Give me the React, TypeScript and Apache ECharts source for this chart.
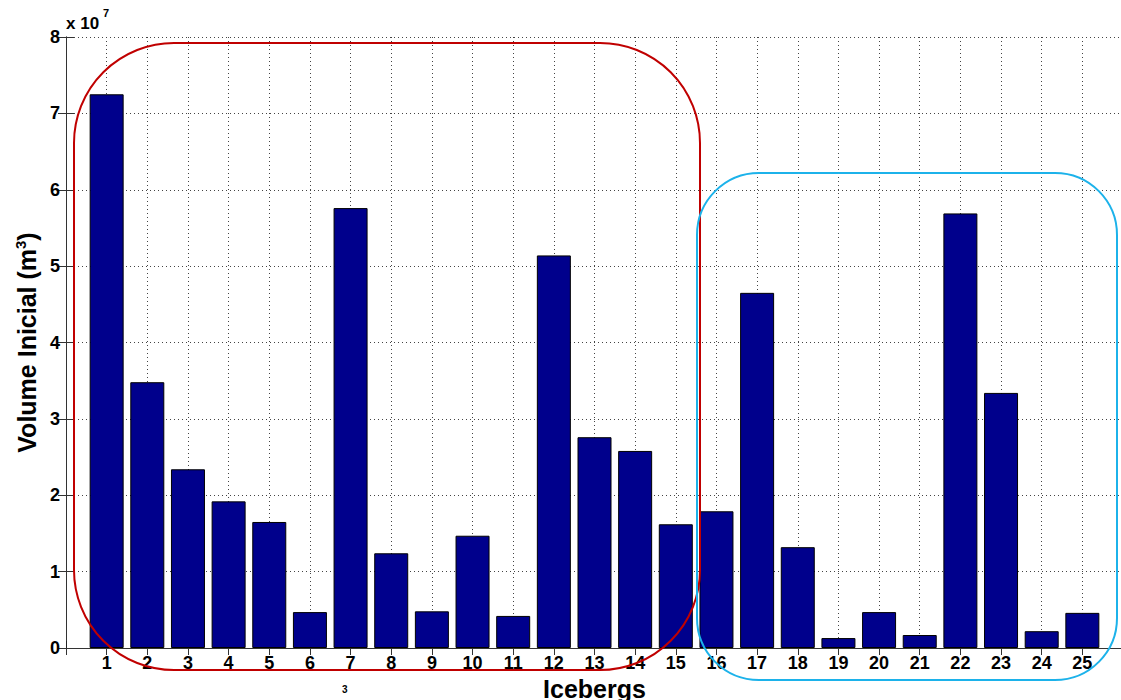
import React, { useEffect, useRef } from "react";
import * as echarts from "echarts";

const icebergs = [1, 2, 3, 4, 5, 6, 7, 8, 9, 10, 11, 12, 13, 14, 15, 16, 17, 18, 19, 20, 21, 22, 23, 24, 25];
// volumes in units of 1e7 m^3
const volumes = [7.25, 3.48, 2.34, 1.92, 1.65, 0.47, 5.76, 1.24, 0.48, 1.47, 0.42, 5.14, 2.76, 2.58, 1.62, 1.79, 4.65, 1.32, 0.13, 0.47, 0.17, 5.69, 3.34, 0.22, 0.46];
const yTicks = [0, 1, 2, 3, 4, 5, 6, 7, 8];

const FONT = "Liberation Sans, Arial, sans-serif";

export default function App() {
  const ref = useRef<HTMLDivElement>(null);
  useEffect(() => {
    if (!ref.current) return;
    const chart = echarts.init(ref.current, null, { renderer: "svg" });
    const gridLine = { show: true, lineStyle: { color: "#444", type: [1, 3], width: 1 } };
    chart.setOption({
      animation: false,
      backgroundColor: "#ffffff",
      grid: { left: 66, top: 37, right: -2, bottom: 52, containLabel: false, outerBoundsMode: "none" },
      xAxis: [
        {
          type: "value",
          min: 0,
          max: 26,
          interval: 1,
          position: "bottom",
          name: "Icebergs",
          nameLocation: "middle",
          nameGap: 26,
          nameTextStyle: { fontFamily: FONT, fontWeight: "bold", fontSize: 25, color: "#000" },
          axisLine: { show: true, lineStyle: { color: "#222", width: 1 } },
          axisTick: { show: true, inside: true, length: 7, lineStyle: { color: "#222" } },
          axisLabel: {
            fontFamily: FONT,
            fontWeight: "bold",
            fontSize: 18,
            color: "#000",
            margin: 6,
            formatter: (v: number) => (icebergs.includes(v) ? String(v) : ""),
          },
          splitLine: gridLine,
        },
        {
          type: "value",
          min: 0,
          max: 26,
          interval: 1,
          position: "top",
          axisLine: { show: true, lineStyle: { color: "#333", width: 1 } },
          axisTick: { show: true, inside: true, length: 7, lineStyle: { color: "#333" } },
          axisLabel: { show: false },
          splitLine: { show: false },
        },
      ],
      yAxis: [
        {
          type: "value",
          min: yTicks[0],
          max: yTicks[yTicks.length - 1],
          interval: 1,
          position: "left",
          name: "{a|Volume Inicial (m}{s|3}{a|)}",
          nameLocation: "middle",
          nameGap: 26,
          nameRotate: 90,
          nameTextStyle: {
            rich: {
              a: { fontFamily: FONT, fontWeight: "bold", fontSize: 25, color: "#000" },
              s: { fontFamily: FONT, fontWeight: "bold", fontSize: 15, color: "#000", verticalAlign: "top", padding: [0, 0, 12, 0] },
            },
          },
          axisLine: { show: true, lineStyle: { color: "#444", width: 1 } },
          axisTick: { show: true, inside: true, length: 8, lineStyle: { color: "#333" } },
          axisLabel: { fontFamily: FONT, fontWeight: "bold", fontSize: 18, color: "#000", margin: 6 },
          splitLine: gridLine,
        },
        {
          type: "value",
          min: yTicks[0],
          max: yTicks[yTicks.length - 1],
          interval: 1,
          position: "right",
          axisLine: { show: true, lineStyle: { color: "#333", width: 1 } },
          axisTick: { show: true, inside: true, length: 8, lineStyle: { color: "#333" } },
          axisLabel: { show: false },
          splitLine: { show: false },
        },
      ],
      series: [
        {
          type: "bar",
          xAxisIndex: 0,
          yAxisIndex: 0,
          barWidth: 34,
          data: icebergs.map((b, i) => [b, volumes[i]]),
          itemStyle: { color: "#00008c", borderColor: "#000", borderWidth: 1 },
          z: 3,
        },
      ],
      graphic: [
        {
          type: "rect",
          shape: { x: 74, y: 43, width: 626, height: 627, r: 100 },
          style: { fill: "none", stroke: "#c00000", lineWidth: 2 },
          z: 100,
        },
        {
          type: "rect",
          shape: { x: 697, y: 173, width: 420, height: 507, r: 62 },
          style: { fill: "none", stroke: "#1cb2ea", lineWidth: 2 },
          z: 100,
        },
        {
          type: "text",
          x: 66,
          y: 15,
          style: { text: "x 10", fontFamily: FONT, fontWeight: "bold", fontSize: 17, fill: "#000" },
          z: 100,
        },
        {
          type: "text",
          x: 103,
          y: 7,
          style: { text: "7", fontFamily: FONT, fontWeight: "bold", fontSize: 11, fill: "#000" },
          z: 100,
        },
        {
          type: "text",
          x: 342,
          y: 684,
          style: { text: "3", fontFamily: FONT, fontWeight: "bold", fontSize: 10, fill: "#000" },
          z: 100,
        },
      ],
    });
    return () => chart.dispose();
  }, []);
  return <div ref={ref} style={{ position: "absolute", left: 0, top: 0, width: 1121, height: 700 }} />;
}
